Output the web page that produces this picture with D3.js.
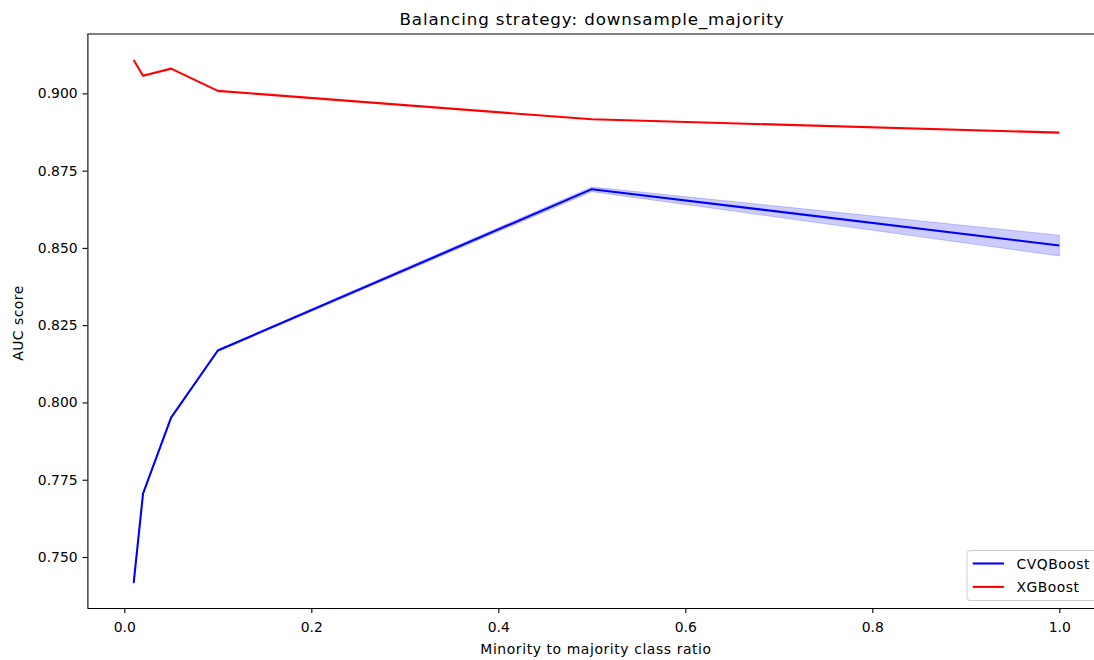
<!DOCTYPE html>
<html>
<head>
<meta charset="utf-8">
<script src="https://cdn.jsdelivr.net/npm/d3@7"></script>
<style>
  body { margin: 0; background: #fff; }
  svg { display: block; font-family: "DejaVu Sans", sans-serif; }
</style>
</head>
<body>
<svg id="chart" width="1094" height="660"></svg>
<script>
// data
var ratios   = [0.01, 0.02, 0.05, 0.1, 0.5, 1.0];
var cvqMean  = [0.7416, 0.7705, 0.7951, 0.8168, 0.8690, 0.8508];
var cvqLow   = [0.7413, 0.7702, 0.7948, 0.8165, 0.8682, 0.8474];
var cvqHigh  = [0.7419, 0.7708, 0.7954, 0.8171, 0.8697, 0.8541];
var xgbMean  = [0.9108, 0.9057, 0.9080, 0.9008, 0.8916, 0.8873];
var xTicks   = [0.0, 0.2, 0.4, 0.6, 0.8, 1.0];
var yTicks   = [0.750, 0.775, 0.800, 0.825, 0.850, 0.875, 0.900];
var seriesNames = ["CVQBoost", "XGBoost"];
var seriesColors = ["#0000ff", "#ff0000"];

var svg = d3.select('#chart');

// axes box (right side runs off the picture, like the reference)
var boxLeft = 87.4, boxRight = 1105.6, boxTop = 34, boxBottom = 608;

var x = d3.scaleLinear().domain([-0.0395, 1.0495]).range([boxLeft, boxRight]);
var y = d3.scaleLinear().domain([0.7335, 0.9192]).range([boxBottom, boxTop]);

var cvq = ratios.map(function(r, i) {
  return { x: r, y: cvqMean[i], lo: cvqLow[i], hi: cvqHigh[i] };
});
var xgb = ratios.map(function(r, i) {
  return { x: r, y: xgbMean[i] };
});

// confidence band
svg.append('path')
  .datum(cvq)
  .attr('fill', '#0000ff')
  .attr('fill-opacity', 0.2)
  .attr('stroke', '#0000ff')
  .attr('stroke-opacity', 0.2)
  .attr('stroke-width', 1)
  .attr('d', d3.area()
    .x(function(d) { return x(d.x); })
    .y0(function(d) { return y(d.lo); })
    .y1(function(d) { return y(d.hi); }));

var line = d3.line()
  .x(function(d) { return x(d.x); })
  .y(function(d) { return y(d.y); });

[cvq, xgb].forEach(function(data, i) {
  svg.append('path')
    .datum(data)
    .attr('fill', 'none')
    .attr('stroke', seriesColors[i])
    .attr('stroke-width', 2.08)
    .attr('stroke-linejoin', 'round')
    .attr('d', line);
});

// x axis
var xAxis = svg.append('g')
  .attr('transform', 'translate(0,' + boxBottom + ')')
  .call(d3.axisBottom(x)
    .tickValues(xTicks)
    .tickFormat(d3.format('.1f'))
    .tickSize(4.9)
    .tickPadding(4.9));
xAxis.select('.domain').attr('stroke', '#000').attr('stroke-width', 1.1)
  .attr('d', 'M' + boxLeft + ',0.5H' + boxRight);
xAxis.selectAll('.tick line').attr('stroke', '#000').attr('stroke-width', 1.1);
xAxis.selectAll('.tick text')
  .attr('font-size', '13.9px')
  .attr('fill', '#000')
  .attr('font-family', '"DejaVu Sans", sans-serif')
  .attr('y', 23.6)
  .attr('dy', null);

// y axis
var yAxis = svg.append('g')
  .attr('transform', 'translate(' + boxLeft + ',0)')
  .call(d3.axisLeft(y)
    .tickValues(yTicks)
    .tickFormat(d3.format('.3f'))
    .tickSize(4.9)
    .tickPadding(4.9));
yAxis.select('.domain').attr('stroke', '#000').attr('stroke-width', 1.1)
  .attr('d', 'M0.5,' + boxTop + 'V' + boxBottom);
yAxis.selectAll('.tick line').attr('stroke', '#000').attr('stroke-width', 1.1);
yAxis.selectAll('.tick text')
  .attr('font-size', '13.9px')
  .attr('fill', '#000')
  .attr('font-family', '"DejaVu Sans", sans-serif');

// top spine
svg.append('line')
  .attr('x1', boxLeft).attr('x2', boxRight)
  .attr('y1', boxTop).attr('y2', boxTop)
  .attr('stroke', '#000').attr('stroke-width', 1.1);

// title and labels (a bit of letter spacing to match the hinted widths)
svg.append('text')
  .attr('x', 592)
  .attr('y', 25)
  .attr('text-anchor', 'middle')
  .attr('font-size', '16.7px')
  .attr('letter-spacing', '0.9px')
  .text('Balancing strategy: downsample_majority');

svg.append('text')
  .attr('x', 596)
  .attr('y', 654)
  .attr('text-anchor', 'middle')
  .attr('font-size', '13.9px')
  .attr('letter-spacing', '0.6px')
  .text('Minority to majority class ratio');

svg.append('text')
  .attr('transform', 'translate(23.3,' + ((boxTop + boxBottom) / 2 + 2) + ') rotate(-90)')
  .attr('text-anchor', 'middle')
  .attr('font-size', '13.9px')
  .attr('letter-spacing', '0.5px')
  .text('AUC score');

// legend (lower right, cut off by the picture edge)
var legend = svg.append('g').attr('transform', 'translate(967,550.5)');
legend.append('rect')
  .attr('width', 131).attr('height', 50)
  .attr('rx', 3)
  .attr('fill', '#fff').attr('fill-opacity', 0.8)
  .attr('stroke', '#cccccc').attr('stroke-width', 1);
seriesNames.forEach(function(name, i) {
  var ly = 13 + i * 23.4;
  legend.append('line')
    .attr('x1', 5.7).attr('x2', 37)
    .attr('y1', ly).attr('y2', ly)
    .attr('stroke', seriesColors[i]).attr('stroke-width', 2.08);
  legend.append('text')
    .attr('x', 49.5).attr('y', ly + 5)
    .attr('font-size', '13.9px')
    .attr('letter-spacing', '0.5px')
    .text(name);
});
</script>
</body>
</html>
